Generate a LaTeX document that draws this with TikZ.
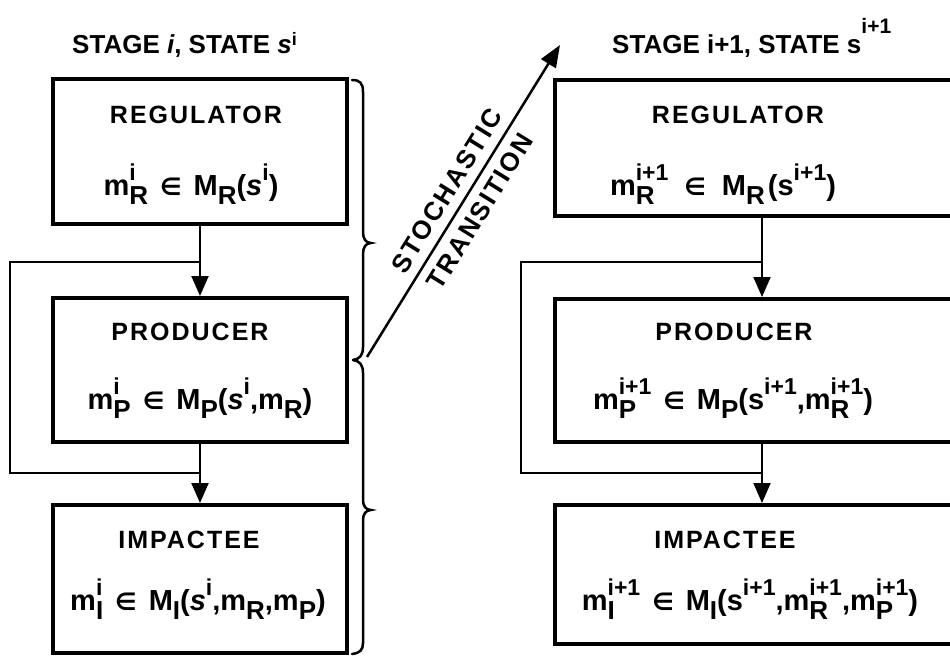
\documentclass[tikz,border=0pt]{standalone}
\usepackage{fontspec}
\usepackage{graphicx}
\setmainfont{Liberation Sans}
\newfontfamily\labelfont[LetterSpace=8]{Liberation Sans}
\newfontfamily\symfont{DejaVu Sans}
\usetikzlibrary{arrows.meta,calc}

% sub- and superscripts set as raised/lowered text
\newcommand\mysub[1]{\raisebox{-9pt}{\fontsize{26}{26}\selectfont #1}}
\newcommand\mysup[1]{\raisebox{15pt}{\fontsize{23}{23}\selectfont #1}}
\newcommand\mysupsub[2]{\setbox0=\hbox{\mysup{#1}}\setbox2=\hbox{\mysub{#2}}%
  \ifdim\wd0>\wd2\relax\rlap{\box2}\box0\else\rlap{\box0}\box2\fi}
\newcommand\elem[1][12pt]{\hspace{#1}{\symfont\fontsize{24}{24}\selectfont ∈}\hspace{#1}}
% superscript of the stage titles
\newcommand\titlesup[3]{\raisebox{#1}{\fontsize{#2}{#2}\selectfont #3}}

\begin{document}
\begin{tikzpicture}[x=1pt,y=-1pt,
  stagebox/.style={draw, line width=4pt, inner sep=0pt, minimum width=#1},
  stagebox/.default=294pt,
  conn/.style={line width=2pt},
  arr/.style={conn, -{Triangle[length=20pt,width=17pt]}},
  bracepath/.style={line width=2.5pt, line cap=round},
  heading/.style={inner sep=0pt, anchor=base, font=\fontsize{25}{25}\selectfont\labelfont\bfseries},
  formula/.style={inner sep=0pt, anchor=base, font=\fontsize{29}{29}\selectfont\bfseries},
  stagetitle/.style={inner sep=0pt, anchor=base west, font=\fontsize{26}{26}\selectfont\bfseries},
  slopetext/.style={inner sep=0pt, sloped, font=\fontsize{26}{26}\selectfont\labelfont\bfseries}]
\useasboundingbox (0,0) rectangle (950,656);
\clip (0,0) rectangle (950,656);

% ---- stage i ----
\node[stagetitle] (Ltitle) at (72,53) {STAGE \textit{i}, STATE \textit{s}\titlesup{8pt}{18}{i}};

\node[stagebox, minimum height=145pt] (Lreg)  at (200,151.5) {};
\node[stagebox, minimum height=144pt] (Lprod) at (200,370) {};
\node[stagebox, minimum height=148pt] (Limp)  at (200,579) {};

\node[heading] (LregT)  at (196,123) {REGULATOR};
\node[formula] (LregF)  at (191,195) {m\mysupsub{i}{R}\elem M\mysub{R}(\textit{s}\mysup{i})};
\node[heading] (LprodT) at (190,340) {PRODUCER};
\node[formula] (LprodF) at (200,409) {m\mysupsub{i}{P}\elem M\mysub{P}(\textit{s}\mysup{i},m\mysub{R})};
\node[heading] (LimpT)  at (189,548) {IMPACTEE};
\node[formula] (LimpF)  at (198,610) {m\mysupsub{i}{I}\elem M\mysub{I}(\textit{s}\mysup{i},m\mysub{R},m\mysub{P})};

\coordinate (Lsplit) at (200,262);
\coordinate (Ljoin)  at (200,473);
\coordinate (Lloop)  at (10,0);
\draw[arr] (Lreg.south) -- (Lprod.north);
\draw[arr] (Lprod.south) -- (Limp.north);
\draw[conn] (Lsplit) -- (Lsplit -| Lloop) |- (Ljoin);

% ---- braces ----
\draw[bracepath] (352,80) .. controls (360,80) and (363,83) .. (363,92) -- (363,232)
  .. controls (363,239) and (366,243) .. (371,243)
  .. controls (366,243) and (363,247) .. (363,254) -- (363,347)
  .. controls (363,355) and (360,359) .. (353,360);
\draw[bracepath] (353,360) .. controls (360,361) and (363,365) .. (363,373) -- (363,500)
  .. controls (363,506) and (366,510) .. (371,510)
  .. controls (366,510) and (363,514) .. (363,520) -- (363,643)
  .. controls (363,650) and (360,653) .. (352,654);

% ---- transition ----
\coordinate (Tstart) at (367,357);
\coordinate (Tend)   at (560,45);
\draw[line width=2.5pt, -{Triangle[length=22pt,width=17pt]}] (Tstart) -- (Tend)
  node[slopetext, pos=0.5, above=9pt] (Tup) {STOCHASTIC}
  node[slopetext, pos=0.5, below=9pt] (Tdown) {TRANSITION};

% ---- stage i+1 ----
\node[stagetitle] (Rtitle) at (612,53) {STAGE i+1, STATE s\titlesup{20pt}{21}{i+1}};

\node[stagebox=414pt, minimum height=136pt] (Rreg)  at (762,148) {};
\node[stagebox=414pt, minimum height=143pt] (Rprod) at (762,370.5) {};
\node[stagebox=414pt, minimum height=139pt] (Rimp)  at (762,574.5) {};

\node[heading] (RregT)  at (738,123) {REGULATOR};
\node[formula] (RregF)  at (723,195) {m\mysupsub{i+1}{R}\elem[16pt]M\mysub{R}\hspace{3pt}(s\mysup{i+1})};
\node[heading] (RprodT) at (734,340) {PRODUCER};
\node[formula] (RprodF) at (733,409) {m\mysupsub{i+1}{P}\elem M\mysub{P}(s\mysup{i+1},m\mysupsub{i+1}{R})};
\node[heading] (RimpT)  at (725,548) {IMPACTEE};
\node[formula] (RimpF)  at (750,610) {m\mysupsub{i+1}{I}\elem M\mysub{I}(s\mysup{i+1},m\mysupsub{i+1}{R},m\mysupsub{i+1}{P})};

\coordinate (Rsplit) at (762,262);
\coordinate (Rjoin)  at (762,473);
\coordinate (Rloop)  at (521,0);
\draw[arr] (Rreg.south) -- (Rprod.north);
\draw[arr] (Rprod.south) -- (Rimp.north);
\draw[conn] (Rsplit) -- (Rsplit -| Rloop) |- (Rjoin);
\end{tikzpicture}
\end{document}
